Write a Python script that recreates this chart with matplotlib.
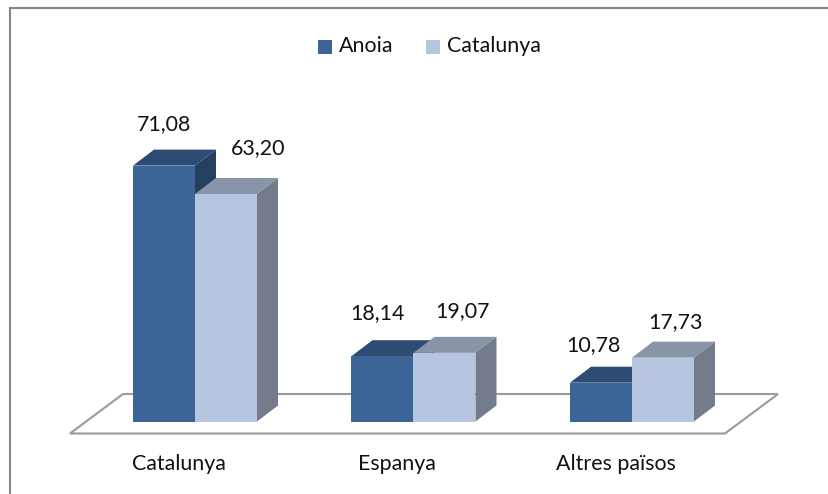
import matplotlib
matplotlib.use("Agg")
import matplotlib.pyplot as plt
from matplotlib.patches import Polygon, Rectangle

categories = ["Catalunya", "Espanya", "Altres països"]
series_names = ["Anoia", "Catalunya"]
anoia = [71.08, 18.14, 10.78]
catalunya = [63.20, 19.07, 17.73]
labels_anoia = ["71,08", "18,14", "10,78"]
labels_catalunya = ["63,20", "19,07", "17,73"]

W, H = 829, 494
PX = 3.60  # pixels per unit
BASE = 421.5
fig = plt.figure(figsize=(W / 100, H / 100), dpi=100)
ax = fig.add_axes([0, 0, 1, 1])
ax.set_xlim(0, W)
ax.set_ylim((BASE - H) / PX, BASE / PX)
ax.axis("off")
FONT = "Lato"
FS = 15.4
TXT = "#111111"


def Y(py):
    return (BASE - py) / PX


# frame: left and top sides only, the others run off the picture
ax.plot([10, 10, 829], [Y(494), Y(8), Y(8)], color="#868686", lw=1.5, solid_joinstyle="miter")

# floor
floor = [(70, 433.5), (725, 433.5), (778, 394), (123, 394)]
ax.add_patch(Polygon([(x, Y(y)) for x, y in floor], closed=True, fc="white", ec="#9a9a9a", lw=1.5, zorder=1))

DX, DY = 21, 16 / PX
BW = 62
centers = [195, 413.5, 632]
COL = [("#3c6496", "#2c4c73", "#25405f"), ("#b6c5df", "#8895a9", "#747b8b")]

# label layout: pixel centre x, pixel distance above the bar front top
lab_a_x = [164, 377, 593]
lab_a_up = [42, 43, 38]
lab_b_x = [258, 463, 676]
lab_b_up = [46, 42, 36]
cat_x = [179, 397, 615.5]


def bar3d(x0, v, cols, z):
    x1 = x0 + BW
    ax.add_patch(Rectangle((x0, 0), BW, v, fc=cols[0], ec="none", zorder=z + 0.2))
    ax.add_patch(Polygon([(x0, v), (x1, v), (x1 + DX, v + DY), (x0 + DX, v + DY)], fc=cols[1], ec="none", zorder=z))
    ax.add_patch(Polygon([(x1, 0), (x1 + DX, DY), (x1 + DX, v + DY), (x1, v)], fc=cols[2], ec="none", zorder=z + 0.1))


for i, c in enumerate(centers):
    a, b = anoia[i], catalunya[i]
    bar3d(c - BW, a, COL[0], 2)
    bar3d(c, b, COL[1], 3)
    ax.text(lab_a_x[i], a + lab_a_up[i] / PX, labels_anoia[i], ha="center", va="center",
            fontsize=FS, family=FONT, color=TXT, zorder=6)
    ax.text(lab_b_x[i], b + lab_b_up[i] / PX, labels_catalunya[i], ha="center", va="center",
            fontsize=FS, family=FONT, color=TXT, zorder=6)
    ax.text(cat_x[i], Y(464), categories[i], ha="center", va="center",
            fontsize=FS, family=FONT, color=TXT, zorder=6)

# legend
for x, name, col, tx in [(318, series_names[0], COL[0][0], 338.5), (426, series_names[1], COL[1][0], 447)]:
    ax.add_patch(Rectangle((x, Y(54)), 14, 14 / PX, fc=col, ec="none"))
    ax.text(tx, Y(46), name, ha="left", va="center", fontsize=FS, family=FONT, color=TXT)

fig.savefig("out.png", dpi=100)
